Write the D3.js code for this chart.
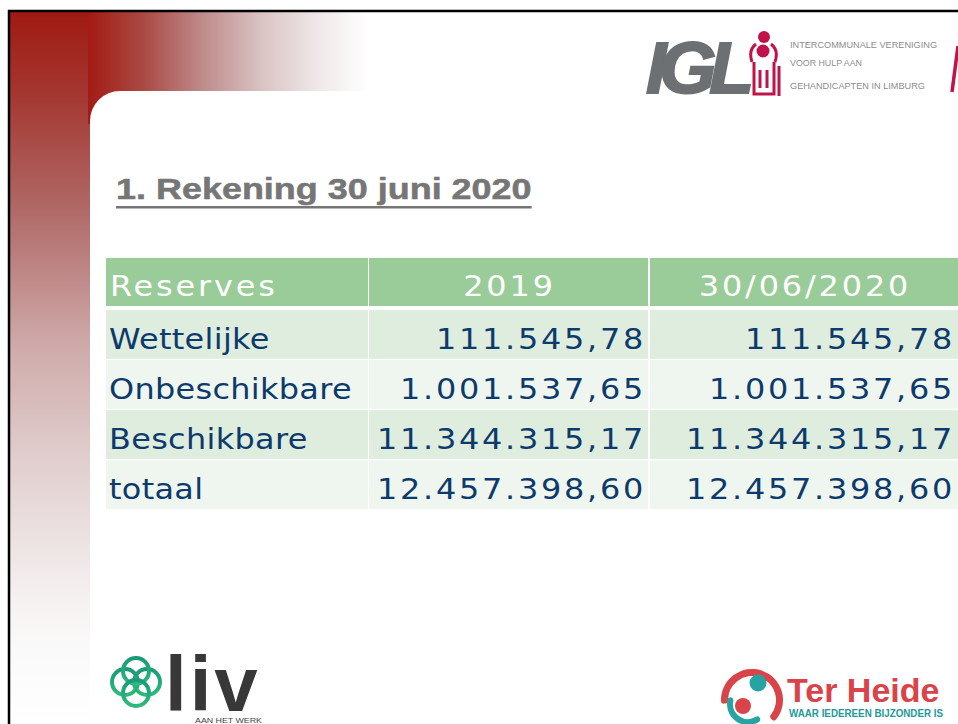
<!DOCTYPE html>
<html>
<head>
<meta charset="utf-8">
<script src="https://cdn.jsdelivr.net/npm/d3@7"></script>
<style>
  body { margin: 0; background: #fff; }
  svg { display: block; }
  .cell-text { font-family: "DejaVu Sans", sans-serif; font-size: 29px; fill: #0d3a6c; }
  .head-text { font-family: "DejaVu Sans", sans-serif; font-size: 29px; fill: #fff; letter-spacing: 2.6px; }
</style>
</head>
<body>
<svg id="slide"></svg>
<script>
const width = 958,
      height = 724;

var title = "1. Rekening 30 juni 2020";
var columns = ["Reserves", "2019", "30/06/2020"];
var rowLabels = ["Wettelijke", "Onbeschikbare", "Beschikbare", "totaal"];
var values2019 = [111545.78, 1001537.65, 11344315.17, 12457398.60];
var values2020 = [111545.78, 1001537.65, 11344315.17, 12457398.60];
var iglLines = ["INTERCOMMUNALE VERENIGING", "VOOR HULP AAN", "GEHANDICAPTEN IN LIMBURG"];

var nl = d3.formatLocale({decimal: ",", thousands: ".", grouping: [3], currency: ["", ""]});
var fmt = nl.format(",.2f");

var svg = d3.select("svg#slide")
    .attr("width", width)
    .attr("height", height);

var defs = svg.append("defs");

var vGrad = defs.append("linearGradient")
    .attr("id", "vgrad")
    .attr("x1", 0).attr("y1", 0).attr("x2", 0).attr("y2", 1);
[[0, "#a01a13"], [0.11, "#a4352f"], [0.28, "#b06a68"], [0.47, "#cfaaaa"], [0.62, "#e0cccc"], [0.74, "#ece2e2"], [0.83, "#f6f2f2"], [0.9, "#fbfafa"], [1, "#ffffff"]]
  .forEach(s => vGrad.append("stop").attr("offset", s[0]).attr("stop-color", s[1]));

var hGrad = defs.append("linearGradient")
    .attr("id", "hgrad")
    .attr("x1", 0).attr("y1", 0).attr("x2", 1).attr("y2", 0);
[[0, "#a31b14"], [0.2, "#aa4a45"], [0.42, "#c08e8e"], [0.62, "#dac3c3"], [0.82, "#efe8e8"], [1, "#ffffff"]]
  .forEach(s => hGrad.append("stop").attr("offset", s[0]).attr("stop-color", s[1]));

var livGrad = defs.append("linearGradient")
    .attr("id", "livgrad")
    .attr("x1", 0).attr("y1", 0).attr("x2", 0).attr("y2", 1);
livGrad.append("stop").attr("offset", 0).attr("stop-color", "#1a9a78");
livGrad.append("stop").attr("offset", 1).attr("stop-color", "#2dba7c");

// slide frame and red corner
svg.append("rect").attr("x", 10).attr("y", 12).attr("width", 80).attr("height", height - 12).attr("fill", "url(#vgrad)");
svg.append("rect").attr("x", 88).attr("y", 12).attr("width", 280).attr("height", 112).attr("fill", "url(#hgrad)");
svg.append("rect").attr("x", 90).attr("y", 91).attr("width", 900).attr("height", 700).attr("rx", 30).attr("fill", "#fff");
svg.append("line").attr("x1", 8).attr("x2", width).attr("y1", 11).attr("y2", 11).attr("stroke", "#000").attr("stroke-width", 2.5);
svg.append("line").attr("x1", 9).attr("x2", 9).attr("y1", 10).attr("y2", height).attr("stroke", "#000").attr("stroke-width", 2.5);

// title
var titleText = svg.append("text")
    .attr("transform", "translate(116,199) scale(1.24,1)")
    .style("font-family", "'Liberation Sans', Arial, sans-serif")
    .style("font-weight", "bold")
    .style("font-size", "29px")
    .style("stroke", "#767676")
    .style("stroke-width", "0.5px")
    .attr("fill", "#767676")
    .text(title);
var tw = titleText.node().getComputedTextLength() * 1.24;
svg.append("rect").attr("x", 116).attr("y", 206).attr("width", tw).attr("height", 2.5).attr("fill", "#767676");

// table
var colLeft = d3.scaleOrdinal().domain(columns).range([106, 369, 650]);
var colWidth = d3.scaleOrdinal().domain(columns).range([262, 279, 308]);

var yRow = d3.scaleBand()
    .domain(rowLabels)
    .range([310, 509])
    .paddingInner(0.025);

var rows = rowLabels.map((d, i) => ({label: d, v2019: values2019[i], v2020: values2020[i], i: i}));

var table = svg.append("g").attr("class", "table");

table.selectAll(".head-cell")
    .data(columns)
    .enter()
  .append("rect")
    .attr("class", "head-cell")
    .attr("x", d => colLeft(d))
    .attr("y", 258)
    .attr("width", d => colWidth(d))
    .attr("height", 48)
    .attr("fill", "#9acc9a");

table.selectAll(".head-text")
    .data(columns)
    .enter()
  .append("text")
    .attr("class", "head-text")
    .attr("transform", (d, i) => i === 0
        ? "translate(" + (colLeft(d) + 4) + ",296) scale(1.1,1)"
        : "translate(" + (colLeft(d) + colWidth(d) / 2 + 1) + ",296) scale(1.1,1)")
    .attr("text-anchor", (d, i) => i === 0 ? "start" : "middle")
    .text(d => d);

var rowG = table.selectAll(".row")
    .data(rows)
    .enter()
  .append("g")
    .attr("class", "row")
    .attr("transform", d => "translate(0," + yRow(d.label) + ")");

rowG.selectAll("rect")
    .data(d => columns.map(c => ({c: c, i: d.i})))
    .enter()
  .append("rect")
    .attr("x", d => colLeft(d.c))
    .attr("y", 0)
    .attr("width", d => colWidth(d.c))
    .attr("height", yRow.bandwidth())
    .attr("fill", d => d.i % 2 === 0 ? "#dfeddf" : "#eff6ef");

rowG.append("text")
    .attr("class", "cell-text")
    .attr("transform", "translate(" + (colLeft(columns[0]) + 3) + "," + (yRow.bandwidth() - 10) + ") scale(1.1,1)")
    .style("letter-spacing", "0.3px")
    .text(d => d.label);

rowG.append("text")
    .attr("class", "cell-text")
    .attr("transform", "translate(" + (colLeft(columns[1]) + colWidth(columns[1]) - 2) + "," + (yRow.bandwidth() - 10) + ") scale(1.1,1)")
    .attr("text-anchor", "end")
    .style("letter-spacing", "2.5px")
    .text(d => fmt(d.v2019));

rowG.append("text")
    .attr("class", "cell-text")
    .attr("transform", "translate(" + (colLeft(columns[2]) + colWidth(columns[2]) - 3) + "," + (yRow.bandwidth() - 10) + ") scale(1.1,1)")
    .attr("text-anchor", "end")
    .style("letter-spacing", "2.5px")
    .text(d => fmt(d.v2020));

// IGL logo
var igl = svg.append("g").attr("class", "igl");
igl.append("text")
    .attr("transform", "translate(646,93) scale(1.02,1)")
    .style("font-family", "'Liberation Sans', Arial, sans-serif")
    .style("font-weight", "bold")
    .style("font-style", "italic")
    .style("font-size", "72px")
    .style("letter-spacing", "-7px")
    .style("stroke", "#6d7073")
    .style("stroke-width", "2px")
    .attr("fill", "#6d7073")
    .text("IGL");
var red = "#c0134a";
igl.append("circle").attr("cx", 764).attr("cy", 37).attr("r", 6).attr("fill", red);
igl.append("circle").attr("cx", 763).attr("cy", 51).attr("r", 6.5).attr("fill", red);
igl.append("path")
    .attr("d", "M756,44 Q748,50 752,62 M771,44 Q779,50 775,62 M754,62 L754,94 L774,94 L774,62 M760,70 L760,88 M767,70 L767,88 M779,66 L779,96")
    .attr("fill", "none").attr("stroke", red).attr("stroke-width", 3);
igl.selectAll(".igl-line")
    .data(iglLines)
    .enter()
  .append("text")
    .attr("class", "igl-line")
    .attr("x", 790)
    .attr("y", (d, i) => [48, 66, 89][i])
    .attr("textLength", (d, i) => [147, 72, 135][i])
    .attr("lengthAdjust", "spacingAndGlyphs")
    .style("font-family", "'Liberation Sans', Arial, sans-serif")
    .style("font-size", "9px")
    .attr("fill", "#8d8d8d")
    .text(d => d);
svg.append("line").attr("x1", 958).attr("y1", 46).attr("x2", 952).attr("y2", 92)
    .attr("stroke", red).attr("stroke-width", 3.5);

// liv logo
var liv = svg.append("g").attr("class", "liv");
[[-11, 0], [11, 0], [0, -11], [0, 11]].forEach(o => {
  liv.append("circle").attr("cx", 136 + o[0]).attr("cy", 682 + o[1]).attr("r", 13)
     .attr("fill", "none").attr("stroke", "url(#livgrad)").attr("stroke-width", 4);
});
liv.append("text")
    .attr("x", 165).attr("y", 711)
    .style("font-family", "'Liberation Sans', Arial, sans-serif")
    .style("font-weight", "bold")
    .style("font-size", "78px")
    .style("letter-spacing", "3px")
    .attr("fill", "#383838")
    .text("liv");
liv.append("text")
    .attr("x", 195).attr("y", 723)
    .attr("textLength", 67).attr("lengthAdjust", "spacingAndGlyphs")
    .style("font-family", "'Liberation Sans', Arial, sans-serif")
    .style("font-size", "7px")
    .attr("fill", "#444")
    .text("AAN HET WERK");

// Ter Heide logo
var th = svg.append("g").attr("class", "terheide");
var arc = d3.arc().cornerRadius(3);
th.append("path")
    .attr("transform", "translate(752,700)")
    .attr("d", arc({innerRadius: 24, outerRadius: 31, startAngle: -1.7, endAngle: 2.35}))
    .attr("fill", "#d9434a");
th.append("path")
    .attr("transform", "translate(748,704)")
    .attr("d", arc({innerRadius: 15, outerRadius: 21, startAngle: -3.85, endAngle: -1.2}))
    .attr("fill", "#26a3a3");
th.append("circle").attr("cx", 758).attr("cy", 683).attr("r", 8.5).attr("fill", "#26a3a3");
th.append("circle").attr("cx", 743).attr("cy", 706).attr("r", 8).attr("fill", "#d9434a");
th.append("text")
    .attr("x", 787).attr("y", 702)
    .style("font-family", "'Liberation Sans', Arial, sans-serif")
    .style("font-weight", "bold")
    .style("font-size", "34px")
    .attr("fill", "#d9434a")
    .text("Ter Heide");
th.append("text")
    .attr("x", 789).attr("y", 717)
    .attr("textLength", 154).attr("lengthAdjust", "spacingAndGlyphs")
    .style("font-family", "'Liberation Sans', Arial, sans-serif")
    .style("font-weight", "bold")
    .style("font-size", "10px")
    .attr("fill", "#23999a")
    .text("WAAR IEDEREEN BIJZONDER IS");
</script>
</body>
</html>
